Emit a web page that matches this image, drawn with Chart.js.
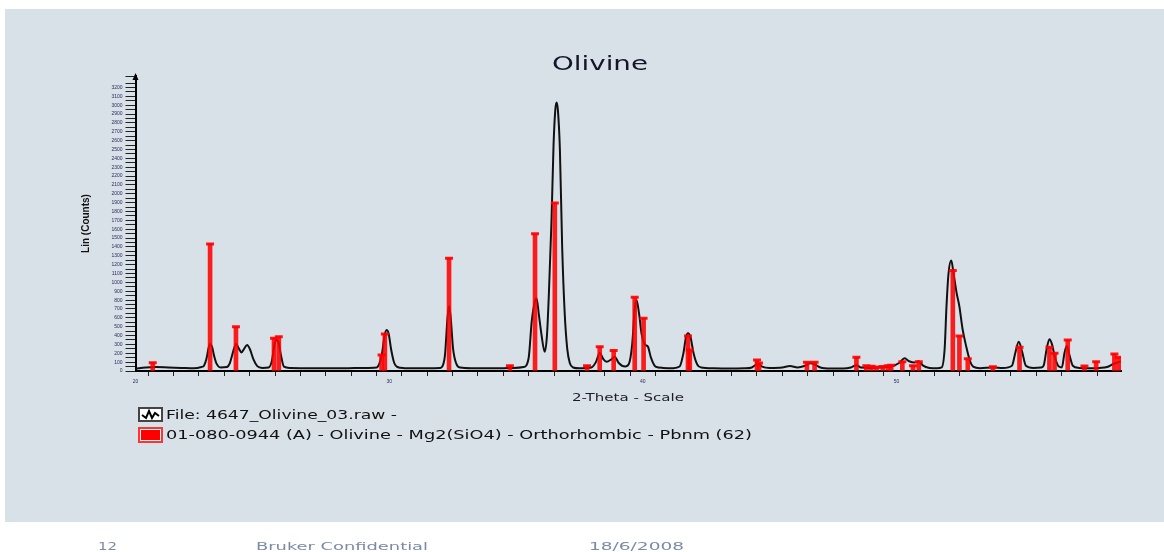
<!DOCTYPE html>
<html>
<head>
<meta charset="utf-8">
<script src="https://cdn.jsdelivr.net/npm/chart.js@4.4.1/dist/chart.umd.min.js"></script>
<style>
  html, body { margin: 0; padding: 0; width: 1164px; height: 552px; overflow: hidden; background: #fff; }
  #panel { position: absolute; left: 5px; top: 9px; width: 1159px; height: 513px; background: #d9e1e8; }
  #c { position: absolute; left: 0; top: 0; }
  .txt { position: absolute; white-space: nowrap; line-height: 1; transform-origin: 0 50%;
         font-family: "DejaVu Sans", Verdana, sans-serif; }
  .icon { position: absolute; box-sizing: border-box; }
</style>
</head>
<body>
<div id="panel"></div>
<canvas id="c" width="1164" height="552"></canvas>

<script>
// measured scan (2-theta in degrees, Lin counts)
const scanTheta = [
  20.0, 20.4, 20.8, 21.3, 21.8, 22.3, 22.6, 22.7, 22.8, 22.88, 22.95, 23.02, 23.1, 23.2, 23.35,
  23.6, 23.72, 23.85, 23.96, 24.08, 24.18, 24.28, 24.4, 24.52, 24.65, 24.8, 25.0,
  25.25, 25.38, 25.48, 25.56, 25.64, 25.74, 25.85, 26.1, 26.6, 27.2, 27.8, 28.4, 29.0,
  29.5, 29.62, 29.72, 29.82, 29.9, 29.98, 30.08, 30.2, 30.32, 30.6, 31.0, 31.6, 32.0,
  32.08, 32.2, 32.3, 32.36, 32.42, 32.52, 32.65, 32.8, 33.3, 33.9, 34.4, 34.9,
  35.3, 35.5, 35.62, 35.75, 35.81, 35.9, 36.0, 36.13, 36.22, 36.3, 36.4, 36.48, 36.55, 36.6, 36.65, 36.73, 36.82, 36.92, 37.02, 37.12, 37.25,
  37.5, 37.8, 38.0, 38.15, 38.3, 38.45, 38.57, 38.75, 38.89, 39.05, 39.3, 39.45, 39.58, 39.68, 39.75, 39.85, 39.95, 40.08, 40.2, 40.32, 40.5, 40.8,
  41.2, 41.45, 41.6, 41.7, 41.78, 41.88, 42.0, 42.15, 42.3,
  42.8, 43.4, 44.0, 44.3, 44.45, 44.55, 44.7, 45.0, 45.5, 45.8, 46.1, 46.4, 46.6, 46.8, 47.0, 47.4, 47.9, 48.2, 48.42, 48.6,
  49.0, 49.4, 49.8, 50.1, 50.32, 50.5, 50.7, 50.88, 51.05, 51.3, 51.6,
  51.78, 51.9, 51.97, 52.05, 52.16, 52.25, 52.37, 52.48, 52.6, 52.75, 52.9, 53.02, 53.3,
  53.8, 54.2, 54.55, 54.68, 54.82, 54.95, 55.1, 55.4, 55.7, 55.8, 55.92, 56.03, 56.13, 56.25, 56.4, 56.52, 56.62, 56.71, 56.8, 56.95,
  57.2, 57.6, 58.0, 58.3, 58.55, 58.75, 58.85
];
const scanCounts = [
  25, 40, 45, 40, 35, 30, 45, 60, 140, 260, 305, 270, 170, 80, 40,
  45, 90, 220, 305, 250, 210, 250, 294, 240, 130, 55, 35,
  40, 120, 300, 350, 320, 170, 50, 35, 32, 30, 30, 32, 35,
  40, 90, 200, 400, 463, 420, 240, 90, 45, 32, 30, 30, 35,
  45, 180, 600, 735, 620, 250, 80, 40, 32, 30, 30, 35,
  45, 150, 560, 790, 821, 640, 420, 218, 400, 900, 1700, 2550, 2950, 3032, 2950, 2500, 1400, 650, 250, 90, 40,
  30, 35, 45, 100, 203, 130, 105, 130, 162, 90, 50, 80, 300, 700, 802, 650, 420, 300, 275, 150, 50, 35,
  32, 50, 200, 380, 426, 380, 200, 70, 40,
  30, 28, 30, 40, 70, 80, 50, 35, 40, 56, 40, 60, 87, 70, 40, 28, 28, 40, 65, 40,
  35, 40, 50, 90, 143, 110, 95, 110, 60, 35, 30,
  40, 260, 727, 1100, 1247, 1100, 880, 727, 480, 275, 110, 50, 32,
  40, 35, 60, 200, 331, 220, 60, 35, 40, 60, 250, 358, 300, 150, 50, 40, 200, 283, 200, 60,
  35, 30, 35, 45, 80, 100, 110
];

// reference pattern 01-080-0944 sticks
const stickTheta = [
  20.68, 22.94, 23.96, 25.46, 25.65, 29.70, 29.83, 32.36, 34.76, 35.75, 36.53, 37.80, 38.30, 38.85, 39.68,
  40.03, 41.78, 41.85, 44.50, 44.58, 46.47, 46.77, 48.42, 48.81, 49.01, 49.21, 49.46, 49.66, 49.79, 50.23,
  50.65, 50.88, 52.22, 52.48, 52.81, 53.80, 54.85, 56.03, 56.23, 56.75, 57.41, 57.87, 58.59, 58.76
];
const stickCounts = [
  94, 1435, 500, 370, 388, 181, 418, 1273, 60, 1548, 1895, 60, 275, 230, 833,
  595, 395, 237, 124, 90, 100, 100, 155, 60, 55, 45, 50, 60, 65, 105,
  60, 105, 1134, 396, 139, 49, 268, 268, 200, 350, 56, 105, 192, 155
];

const xLabels = [20, 30, 40, 50];
const legendNames = ['File: 4647_Olivine_03.raw -',
  '01-080-0944 (A) - Olivine - Mg2(SiO4) - Orthorhombic - Pbnm (62)'];

const n = Math.min(scanTheta.length, scanCounts.length);
const scan = [];
for (let i = 0; i < n; i++) scan.push({ x: scanTheta[i], y: scanCounts[i] });
const sticks = stickTheta.map((t, i) => ({ x: t, y: stickCounts[i] }));

// little arrow on top of the y axis
const axisArrow = {
  id: 'axisArrow',
  afterDraw(chart) {
    const { ctx, chartArea } = chart;
    ctx.save();
    ctx.fillStyle = '#000';
    ctx.beginPath();
    ctx.moveTo(chartArea.left, chartArea.top - 3);
    ctx.lineTo(chartArea.left - 3, chartArea.top + 4);
    ctx.lineTo(chartArea.left + 3, chartArea.top + 4);
    ctx.closePath();
    ctx.fill();
    ctx.restore();
  }
};

new Chart(document.getElementById('c'), {
  type: 'line',
  data: {
    datasets: [
      {
        type: 'bar',
        data: sticks,
        backgroundColor: 'rgba(255,0,0,0.88)',
        barThickness: 4,
        order: 0
      },
      {
        type: 'scatter',
        data: sticks,
        pointStyle: 'line',
        pointRadius: 4,
        borderWidth: 3,
        borderColor: 'rgba(255,0,0,0.9)',
        order: 0
      },
      {
        type: 'line',
        data: scan,
        borderColor: '#111',
        borderWidth: 2,
        pointRadius: 0,
        cubicInterpolationMode: 'monotone',
        order: 1
      }
    ]
  },
  options: {
    responsive: false,
    animation: false,
    layout: { padding: { left: 80, top: 76, right: 43, bottom: 161 } },
    plugins: { legend: { display: false }, tooltip: { enabled: false } },
    scales: {
      x: {
        type: 'linear',
        min: 20,
        max: 58.85,
        offset: false,
        border: { color: '#000', width: 2 },
        grid: { drawOnChartArea: false, tickLength: 5, color: '#222' },
        ticks: {
          stepSize: 1,
          autoSkip: false,
          maxRotation: 0,
          padding: 3,
          font: { size: 5, family: 'Arial' },
          color: '#2b2b5a',
          callback: v => xLabels.includes(v) ? String(v) : ''
        },
        afterFit: s => { s.height = 20; }
      },
      y: {
        min: 0,
        max: 3330,
        border: { color: '#000', width: 2 },
        grid: { drawOnChartArea: false, tickLength: 10, color: '#222' },
        ticks: {
          stepSize: 50,
          autoSkip: false,
          padding: 3,
          font: { size: 5, family: 'Arial' },
          color: '#2b2b5a',
          callback: v => v % 100 === 0 ? String(v) : ''
        },
        title: {
          display: true,
          text: 'Lin (Counts)',
          color: '#111',
          padding: 0,
          font: { size: 10, weight: 'bold', family: 'Arial' }
        },
        afterFit: s => { s.width = 55.5; }
      }
    }
  },
  plugins: [axisArrow]
});

// stretched slide text
function placeText(text, left, midY, width, size, color, weight) {
  const el = document.createElement('div');
  el.className = 'txt';
  el.textContent = text;
  el.style.fontSize = size + 'px';
  el.style.color = color;
  if (weight) el.style.fontWeight = weight;
  document.body.appendChild(el);
  const r = el.getBoundingClientRect();
  el.style.left = left + 'px';
  el.style.top = (midY - r.height / 2) + 'px';
  el.style.transform = 'scaleX(' + (width / r.width) + ')';
}

placeText('Olivine', 552, 63, 96, 19, '#15152a');
placeText('2-Theta - Scale', 572, 398, 112, 10, '#1c1c2c');
placeText(legendNames[0], 166, 415, 231, 12, '#111');
placeText(legendNames[1], 166, 435, 586, 12, '#111');
placeText('12', 98, 547, 19, 10, '#7d8aa3');
placeText('Bruker Confidential', 256, 547, 172, 10, '#7d8aa3');
placeText('18/6/2008', 589, 547, 95, 10, '#7d8aa3');

// legend icons
const ic1 = document.createElement('div');
ic1.className = 'icon';
ic1.style.cssText = 'left:138px;top:407px;width:25px;height:15px;background:#fff;border:2px solid #444;';
ic1.innerHTML = '<svg width="21" height="11" style="display:block"><polyline points="2,6 6,9 9,2 12,9 15,4 19,7" fill="none" stroke="#000" stroke-width="2"/></svg>';
document.body.appendChild(ic1);

const ic2 = document.createElement('div');
ic2.className = 'icon';
ic2.style.cssText = 'left:138px;top:427px;width:25px;height:16px;background:#f00;border:2px solid #f33;box-shadow:inset 0 0 0 1px #fff;';
document.body.appendChild(ic2);
</script>
</body>
</html>
